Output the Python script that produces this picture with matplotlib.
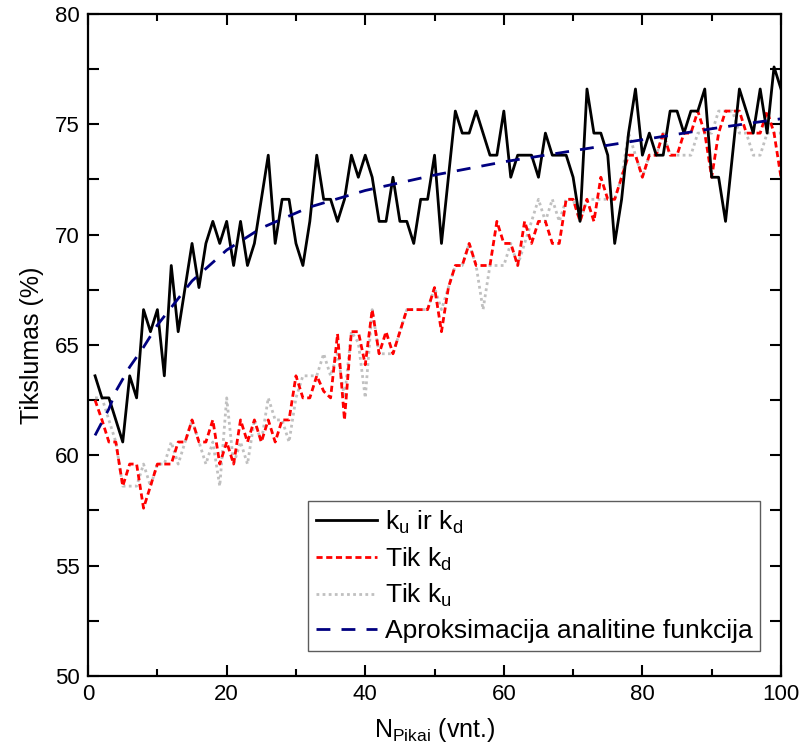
import matplotlib
matplotlib.use("Agg")
import matplotlib.pyplot as plt
from matplotlib.ticker import MultipleLocator

plt.rcParams['font.family'] = ['Liberation Sans', 'DejaVu Sans']
plt.rcParams['mathtext.default'] = 'regular'

n_peaks = list(range(1, 101))

# accuracy with both k_u and k_d tuned
acc_both = [
    63.6, 62.6, 62.6, 61.6, 60.6, 63.6, 62.6, 66.6, 65.6, 66.6,
    63.6, 68.6, 65.6, 67.6, 69.6, 67.6, 69.6, 70.6, 69.6, 70.6,
    68.6, 70.6, 68.6, 69.6, 71.6, 73.6, 69.6, 71.6, 71.6, 69.6,
    68.6, 70.6, 73.6, 71.6, 71.6, 70.6, 71.6, 73.6, 72.6, 73.6,
    72.6, 70.6, 70.6, 72.6, 70.6, 70.6, 69.6, 71.6, 71.6, 73.6,
    69.6, 72.6, 75.6, 74.6, 74.6, 75.6, 74.6, 73.6, 73.6, 75.6,
    72.6, 73.6, 73.6, 73.6, 72.6, 74.6, 73.6, 73.6, 73.6, 72.6,
    70.6, 76.6, 74.6, 74.6, 73.6, 69.6, 71.6, 74.6, 76.6, 73.6,
    74.6, 73.6, 73.6, 75.6, 75.6, 74.6, 75.6, 75.6, 76.6, 72.6,
    72.6, 70.6, 73.6, 76.6, 75.6, 74.6, 76.6, 74.6, 77.6, 76.6,
]

# accuracy with only k_d tuned
acc_kd = [
    62.5, 61.6, 60.6, 60.6, 58.6, 59.6, 59.6, 57.6, 58.6, 59.6,
    59.6, 59.6, 60.6, 60.6, 61.6, 60.6, 60.6, 61.6, 59.6, 60.6,
    59.6, 61.6, 60.6, 61.6, 60.6, 61.6, 60.6, 61.6, 61.6, 63.6,
    62.6, 62.6, 63.6, 62.9, 62.6, 65.5, 61.6, 65.6, 65.6, 64.1,
    66.6, 64.6, 65.6, 64.6, 65.6, 66.6, 66.6, 66.6, 66.6, 67.6,
    65.6, 67.6, 68.6, 68.6, 69.6, 68.6, 68.6, 68.6, 70.6, 69.6,
    69.6, 68.6, 70.6, 69.6, 70.6, 70.6, 69.6, 69.6, 71.6, 71.6,
    70.6, 71.6, 70.6, 72.6, 71.6, 71.6, 72.6, 73.6, 73.6, 72.6,
    73.6, 73.6, 74.6, 73.6, 73.6, 74.6, 74.6, 75.6, 74.6, 72.6,
    74.6, 75.6, 75.6, 75.6, 74.6, 74.6, 74.6, 75.6, 74.6, 72.6,
]

# accuracy with only k_u tuned
acc_ku = [
    62.6, 62.6, 61.6, 60.6, 58.6, 58.6, 58.6, 59.6, 58.6, 59.6,
    59.6, 60.6, 59.6, 60.6, 61.6, 60.6, 59.6, 60.6, 58.6, 62.6,
    59.6, 60.6, 59.6, 61.6, 60.6, 62.6, 61.6, 61.6, 60.6, 62.6,
    63.6, 63.6, 63.6, 64.6, 63.6, 64.6, 62.6, 65.6, 65.1, 62.6,
    66.6, 64.6, 64.6, 64.6, 65.6, 66.6, 66.6, 66.6, 66.6, 67.6,
    66.6, 67.6, 68.6, 68.6, 69.6, 68.6, 66.6, 68.6, 68.6, 68.6,
    69.6, 68.6, 69.6, 70.6, 71.6, 70.6, 71.6, 70.6, 71.6, 71.6,
    70.6, 71.6, 71.6, 71.6, 71.6, 71.6, 72.6, 74.6, 73.6, 72.6,
    73.6, 73.6, 74.6, 73.6, 73.6, 73.6, 73.6, 74.6, 74.6, 74.6,
    75.6, 75.6, 75.6, 74.6, 74.6, 73.6, 73.6, 74.6, 74.6, 74.6,
]

# analytic approximation curve
fit_x = [1, 2, 3, 4, 6, 8, 10, 12, 15, 20, 25, 32, 40, 50, 60, 70, 80, 90, 100]
fit_y = [60.9, 61.5, 62.1, 62.9, 64.0, 64.9, 65.9, 66.7, 67.9, 69.3, 70.3,
         71.25, 72.0, 72.7, 73.3, 73.8, 74.3, 74.8, 75.25]

labels = [
    r'k$_u$ ir k$_d$',
    r'Tik k$_d$',
    r'Tik k$_u$',
    'Aproksimacija analitine funkcija',
]

fig = plt.figure(figsize=(8.01, 7.56), dpi=100)
ax = fig.add_axes([0.110, 0.106, 0.865, 0.8755])

ax.plot(n_peaks, acc_ku, color='#c0c0c0', lw=2.0, ls=(0, (1, 1.2)), label=labels[2])
ax.plot(n_peaks, acc_kd, color='#ff0000', lw=2.0, ls=(0, (2.2, 1.3)), label=labels[1])
ax.plot(n_peaks, acc_both, color='black', lw=2.0, label=labels[0])
ax.plot(fit_x, fit_y, color='#000080', lw=2.0, ls=(0, (5, 4)), label=labels[3])

ax.set_xlim(0, 100)
ax.set_ylim(50, 80)
ax.xaxis.set_major_locator(MultipleLocator(20))
ax.xaxis.set_minor_locator(MultipleLocator(10))
ax.yaxis.set_major_locator(MultipleLocator(5))
ax.yaxis.set_minor_locator(MultipleLocator(2.5))

ax.tick_params(which='both', direction='in', top=True, right=True,
               width=1.5, labelsize=16, pad=6)
ax.tick_params(which='major', length=8)
ax.tick_params(axis='x', which='minor', length=5)
ax.tick_params(axis='y', which='minor', length=8)
for sp in ax.spines.values():
    sp.set_linewidth(1.6)

ax.set_xlabel(r'N$_{Pikai}$ (vnt.)', fontsize=18, labelpad=8)
ax.set_ylabel('Tikslumas (%)', fontsize=18, labelpad=8)

handles, labs = ax.get_legend_handles_labels()
order = [labs.index(l) for l in labels]
leg = ax.legend([handles[i] for i in order], [labs[i] for i in order],
                loc='lower right', bbox_to_anchor=(0.97, 0.038),
                borderaxespad=0, fontsize=19, frameon=True, fancybox=False,
                edgecolor='#333333', handlelength=2.3, handletextpad=0.3,
                labelspacing=0.36, borderpad=0.3)
leg.get_frame().set_linewidth(1.0)

fig.savefig('out.png', dpi=100)
